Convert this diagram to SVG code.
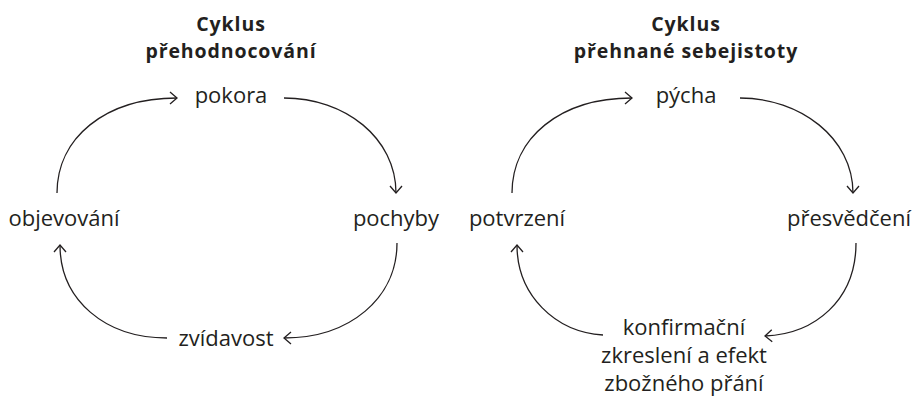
<svg xmlns="http://www.w3.org/2000/svg" width="915" height="398" viewBox="0 0 915 398">
  <style>
    .title { font-family: "Open Sans", Lato, "Liberation Sans", sans-serif; font-weight: 700; font-size: 19.5px; letter-spacing: 0.9px; fill: #231f20; text-anchor: middle; }
    .label { font-family: "Open Sans", Lato, "Liberation Sans", sans-serif; font-size: 22px; fill: #231f20; text-anchor: middle; }
    .edge { fill: none; stroke: #231f20; stroke-width: 1.3; marker-end: url(#arrow); }
  </style>
  <defs>
    <marker id="arrow" markerUnits="userSpaceOnUse" markerWidth="16" markerHeight="16" viewBox="-10 -8 12 16" refX="0" refY="0" orient="auto">
      <path d="M-7,-6 L0,0 L-7,6" fill="none" stroke="#231f20" stroke-width="1.3"/>
    </marker>
  </defs>

  <rect width="915" height="398" fill="#ffffff"/>

  <!-- left cycle -->
  <g id="title-left">
    <text class="title" x="231" y="30.5">Cyklus</text>
    <text class="title" x="231" y="57.5">přehodnocování</text>
  </g>
  <g id="pokora"><text class="label" x="231" y="103">pokora</text></g>
  <g id="pochyby"><text class="label" x="396" y="226">pochyby</text></g>
  <g id="zvidavost"><text class="label" x="226" y="346">zvídavost</text></g>
  <g id="objevovani"><text class="label" x="64" y="226">objevování</text></g>

  <!-- right cycle -->
  <g id="title-right">
    <text class="title" x="686" y="30.5">Cyklus</text>
    <text class="title" x="686" y="57.5">přehnané sebejistoty</text>
  </g>
  <g id="pycha"><text class="label" x="686" y="103">pýcha</text></g>
  <g id="presvedceni"><text class="label" x="849" y="226">přesvědčení</text></g>
  <g id="konfirmacni">
    <text class="label" x="684" y="335">konfirmační</text>
    <text class="label" x="684" y="363">zkreslení a efekt</text>
    <text class="label" x="684" y="391">zbožného přání</text>
  </g>
  <g id="potvrzeni"><text class="label" x="517" y="226">potvrzení</text></g>

  <g id="connectors">
    <!-- left cycle -->
    <path class="edge" d="M57,193 C57,138 105,98 177,98"/>
    <path class="edge" d="M284,98 C345,98 396,138 396,193"/>
    <path class="edge" d="M397,243 C397,298 350,338 284,338"/>
    <path class="edge" d="M167,338 C105,338 60,300 60,245"/>
    <!-- right cycle -->
    <path class="edge" d="M512,193 C512,138 560,98 632,98"/>
    <path class="edge" d="M740,98 C800,98 853,138 853,193"/>
    <path class="edge" d="M856,243 C856,300 815,334 765,336"/>
    <path class="edge" d="M603,335 C555,332 517,295 517,245"/>
  </g>
</svg>
